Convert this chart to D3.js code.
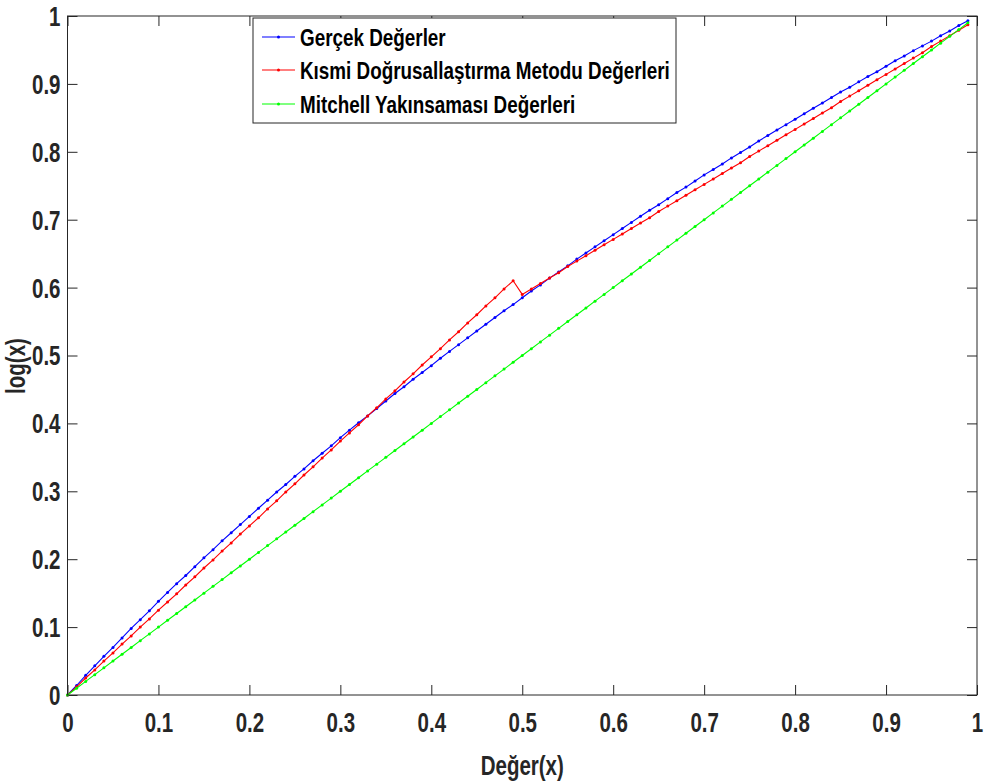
<!DOCTYPE html>
<html>
<head>
<meta charset="utf-8">
<script src="https://cdn.jsdelivr.net/npm/d3@7/dist/d3.min.js"></script>
<style>
  body { margin: 0; background: #fff; }
  text { font-family: "Liberation Sans Narrow", "Arial Narrow", "Liberation Sans", sans-serif; font-weight: bold; fill: #262626; }
</style>
</head>
<body>
<div id="chart"></div>
<script>
// x values 0.00 .. 0.99
var xValues = d3.range(100).map(function (i) { return i / 100; });

var gercek = [
  0.000, 0.014, 0.029, 0.043, 0.057, 0.070, 0.084, 0.098, 0.111, 0.124,
  0.138, 0.151, 0.164, 0.176, 0.189, 0.202, 0.214, 0.227, 0.239, 0.251,
  0.263, 0.275, 0.287, 0.299, 0.310, 0.322, 0.333, 0.345, 0.356, 0.367,
  0.379, 0.390, 0.401, 0.411, 0.422, 0.433, 0.444, 0.454, 0.465, 0.475,
  0.485, 0.496, 0.506, 0.516, 0.526, 0.536, 0.546, 0.556, 0.566, 0.575,
  0.585, 0.595, 0.604, 0.614, 0.623, 0.632, 0.642, 0.651, 0.660, 0.669,
  0.678, 0.687, 0.696, 0.705, 0.714, 0.722, 0.731, 0.740, 0.748, 0.757,
  0.766, 0.774, 0.782, 0.791, 0.799, 0.807, 0.816, 0.824, 0.832, 0.840,
  0.848, 0.856, 0.864, 0.872, 0.880, 0.888, 0.895, 0.903, 0.911, 0.918,
  0.926, 0.934, 0.941, 0.949, 0.956, 0.963, 0.971, 0.978, 0.986, 0.993
];

// piecewise linear approximation (red)
var kismi = [
  0.000, 0.012, 0.025, 0.037, 0.050, 0.062, 0.075, 0.087, 0.100, 0.112,
  0.125, 0.137, 0.149, 0.162, 0.174, 0.187, 0.199, 0.212, 0.224, 0.237,
  0.249, 0.261, 0.274, 0.286, 0.299, 0.311, 0.324, 0.336, 0.349, 0.361,
  0.374, 0.386, 0.398, 0.411, 0.423, 0.436, 0.448, 0.461, 0.473, 0.486,
  0.498, 0.510, 0.523, 0.535, 0.548, 0.560, 0.573, 0.585, 0.598, 0.610,
  0.590, 0.598, 0.606, 0.614, 0.622, 0.631, 0.639, 0.647, 0.655, 0.663,
  0.671, 0.679, 0.687, 0.695, 0.703, 0.712, 0.720, 0.728, 0.736, 0.744,
  0.752, 0.760, 0.768, 0.776, 0.784, 0.793, 0.801, 0.809, 0.817, 0.825,
  0.833, 0.841, 0.849, 0.857, 0.865, 0.874, 0.882, 0.890, 0.898, 0.906,
  0.914, 0.922, 0.930, 0.938, 0.946, 0.955, 0.963, 0.971, 0.979, 0.987
];

// Mitchell approximation (green)
var mitchell = [
  0.00, 0.01, 0.02, 0.03, 0.04, 0.05, 0.06, 0.07, 0.08, 0.09,
  0.10, 0.11, 0.12, 0.13, 0.14, 0.15, 0.16, 0.17, 0.18, 0.19,
  0.20, 0.21, 0.22, 0.23, 0.24, 0.25, 0.26, 0.27, 0.28, 0.29,
  0.30, 0.31, 0.32, 0.33, 0.34, 0.35, 0.36, 0.37, 0.38, 0.39,
  0.40, 0.41, 0.42, 0.43, 0.44, 0.45, 0.46, 0.47, 0.48, 0.49,
  0.50, 0.51, 0.52, 0.53, 0.54, 0.55, 0.56, 0.57, 0.58, 0.59,
  0.60, 0.61, 0.62, 0.63, 0.64, 0.65, 0.66, 0.67, 0.68, 0.69,
  0.70, 0.71, 0.72, 0.73, 0.74, 0.75, 0.76, 0.77, 0.78, 0.79,
  0.80, 0.81, 0.82, 0.83, 0.84, 0.85, 0.86, 0.87, 0.88, 0.89,
  0.90, 0.91, 0.92, 0.93, 0.94, 0.95, 0.96, 0.97, 0.98, 0.99
];

var seriesNames = ["Gerçek Değerler", "Kısmi Doğrusallaştırma Metodu Değerleri", "Mitchell Yakınsaması Değerleri"];
var seriesColors = ["#0000ff", "#ff0000", "#00ff00"];
var tickValues = [0, 0.1, 0.2, 0.3, 0.4, 0.5, 0.6, 0.7, 0.8, 0.9, 1];
var tickLabels = ["0", "0.1", "0.2", "0.3", "0.4", "0.5", "0.6", "0.7", "0.8", "0.9", "1"];

var width = 988, height = 784;
var mLeft = 67.5, mRight = 977, mTop = 16, mBottom = 695;
var tickLen = 10;
// the reference uses a narrow, slightly tall font: squeeze the wide fallback
var sx = 0.82, sy = 1.08;
var squeeze = "scale(" + sx + "," + sy + ")";

var svg = d3.select("#chart").append("svg")
    .attr("width", width)
    .attr("height", height)
    .style("background", "#fff");

var x = d3.scaleLinear().domain([0, 1]).range([mLeft, mRight]);
var y = d3.scaleLinear().domain([0, 1]).range([mBottom, mTop]);

var fmt = function (d, i) { return tickLabels[i]; };

// bottom axis (ticks inward)
var gx = svg.append("g")
    .attr("transform", "translate(0," + mBottom + ")")
    .call(d3.axisBottom(x).tickValues(tickValues).tickFormat(fmt)
        .tickSizeInner(-tickLen).tickSizeOuter(0).tickPadding(16.5));
// left axis
var gy = svg.append("g")
    .attr("transform", "translate(" + mLeft + ",0)")
    .call(d3.axisLeft(y).tickValues(tickValues).tickFormat(fmt)
        .tickSizeInner(-tickLen).tickSizeOuter(0).tickPadding(7));
// top and right ticks (no labels)
var gx2 = svg.append("g")
    .attr("transform", "translate(0," + mTop + ")")
    .call(d3.axisTop(x).tickValues(tickValues).tickFormat("")
        .tickSizeInner(-tickLen).tickSizeOuter(0));
var gy2 = svg.append("g")
    .attr("transform", "translate(" + mRight + ",0)")
    .call(d3.axisRight(y).tickValues(tickValues).tickFormat("")
        .tickSizeInner(-tickLen).tickSizeOuter(0));

[gx, gy, gx2, gy2].forEach(function (g) {
    g.attr("font-family", null).attr("font-size", null);
    g.select(".domain").remove();
    g.selectAll(".tick line").attr("stroke", "#262626").attr("stroke-width", 1);
    g.selectAll(".tick text")
        .style("font-size", "25px")
        .attr("fill", "#262626");
});
gx.selectAll(".tick text").attr("dy", "0.71em")
    .attr("transform", squeeze);
gy.selectAll(".tick text").attr("dy", "0.35em")
    .attr("x", -7 / sx)
    .attr("transform", squeeze);

// data lines
var allSeries = [gercek, kismi, mitchell];
var line = d3.line()
    .x(function (d, i) { return x(xValues[i]); })
    .y(function (d) { return y(d); });

allSeries.forEach(function (vals, s) {
    var g = svg.append("g");
    g.append("path")
        .datum(vals)
        .attr("d", line)
        .attr("fill", "none")
        .attr("stroke", seriesColors[s])
        .attr("stroke-width", 1.1);
    g.selectAll("circle").data(vals).enter().append("circle")
        .attr("cx", function (d, i) { return x(xValues[i]); })
        .attr("cy", function (d) { return y(d); })
        .attr("r", 1.5)
        .attr("fill", seriesColors[s]);
});

// box
svg.append("rect")
    .attr("x", mLeft).attr("y", mTop)
    .attr("width", mRight - mLeft).attr("height", mBottom - mTop)
    .attr("fill", "none")
    .attr("stroke", "#262626")
    .attr("stroke-width", 1);

// axis labels
svg.append("text")
    .attr("transform", "translate(" + ((mLeft + mRight) / 2) + ",775) " + squeeze)
    .attr("text-anchor", "middle")
    .style("font-size", "25px")
    .text("Değer(x)");

svg.append("text")
    .attr("transform", "translate(25,366) rotate(-90) " + squeeze)
    .attr("text-anchor", "middle")
    .style("font-size", "25px")
    .text("log(x)");

// legend
var lg = svg.append("g");
lg.append("rect")
    .attr("x", 253).attr("y", 18)
    .attr("width", 423).attr("height", 105)
    .attr("fill", "#fff")
    .attr("stroke", "#262626")
    .attr("stroke-width", 1);
var rowY = [37, 70, 104];
seriesNames.forEach(function (name, i) {
    lg.append("line")
        .attr("x1", 262).attr("x2", 295)
        .attr("y1", rowY[i]).attr("y2", rowY[i])
        .attr("stroke", seriesColors[i])
        .attr("stroke-width", 1.1);
    lg.append("circle")
        .attr("cx", 278.5).attr("cy", rowY[i])
        .attr("r", 1.5)
        .attr("fill", seriesColors[i]);
    lg.append("text")
        .attr("transform", "translate(300," + rowY[i] + ") " + squeeze)
        .attr("dy", "0.35em")
        .style("font-size", "23px")
        .style("fill", "#000")
        .text(name);
});
</script>
</body>
</html>
